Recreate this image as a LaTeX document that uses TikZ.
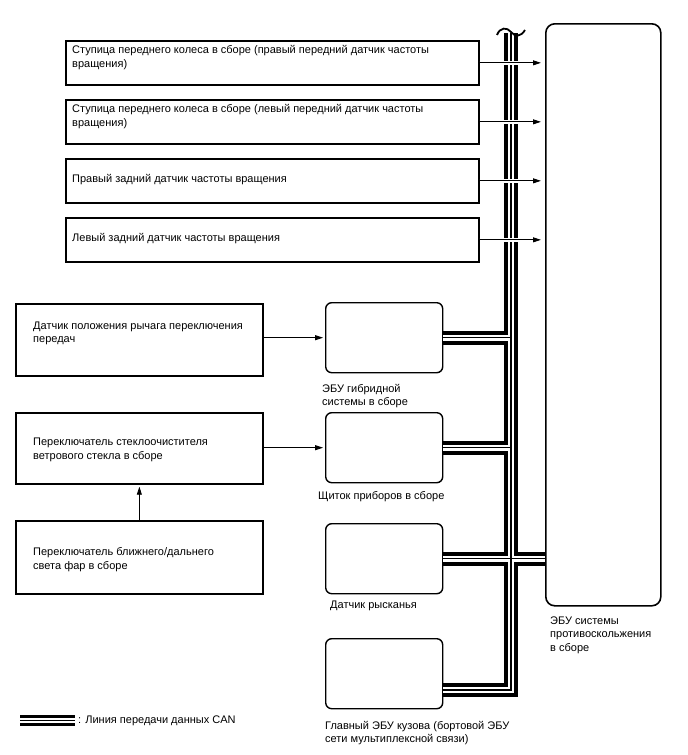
\documentclass[tikz,border=0pt]{standalone}
\usepackage{fontspec}
\setmainfont{Liberation Sans}
\usetikzlibrary{arrows.meta,positioning,calc}

\begin{document}
\begin{tikzpicture}[x=1pt,y=-1pt,font=\fontsize{11}{13.5}\selectfont,
  inbox/.style={draw,line width=1.7pt,anchor=north west,inner sep=0pt},
  ubox/.style={draw,line width=1.4pt,rounded corners=6pt,anchor=north west,
    inner sep=0pt,minimum width=117pt,minimum height=70pt},
  txt/.style={anchor=west,align=left,inner sep=0pt},
  sig/.style={line width=0.9pt,-{Triangle[length=8pt,width=5pt]}},
  canbus/.style={draw=black,line width=14pt,line join=miter,
    postaction={draw=white,line width=6pt},
    postaction={draw=black,line width=1.3pt}},
  canlegend/.style={draw=black,line width=11pt,
    postaction={draw=white,line width=5pt},
    postaction={draw=black,line width=1pt}}]
  \useasboundingbox (0,0) rectangle (688,755);
  % wheel speed sensors
  \foreach \n/\top/\dy/\txt in {
    wfr/40/17.5/{Ступица переднего колеса в сборе (правый передний датчик частоты\\вращения)},
    wfl/99/17.5/{Ступица переднего колеса в сборе (левый передний датчик частоты\\вращения)},
    wrr/158/22/{Правый задний датчик частоты вращения},
    wrl/217/22/{Левый задний датчик частоты вращения}}{
    \node[inbox,minimum width=413pt,minimum height=44pt] (\n) at (65,\top) {};
    \node[txt] (\n-t) at ($(\n.north west)+(7,\dy)$) {\txt};
  }
  % skid control ECU
  \node[draw,line width=1.6pt,rounded corners=9pt,anchor=north west,inner sep=0pt,
    minimum width=115pt,minimum height=582pt] (ecu) at (545,23) {};
  \node[anchor=north west,align=left,inner sep=0pt] (ecu-t) at ($(ecu.south west)+(5,10)$)
    {ЭБУ системы\\противоскольжения\\в сборе};
  % CAN units
  \node[ubox] (hyb) at (325,302) {};
  \node[anchor=north west,align=left,inner sep=0pt] (hyb-t) at (322,384)
    {ЭБУ гибридной\\системы в сборе};
  \node[ubox] (ins) at (325,412) {};
  \node[txt] (ins-t) at (318,497) {Щиток приборов в сборе};
  \node[ubox] (yaw) at (325,523) {};
  \node[txt] (yaw-t) at (330,606) {Датчик рысканья};
  \node[ubox] (body) at (325,638) {};
  \node[anchor=north west,align=left,inner sep=0pt] (body-t) at (325,721)
    {Главный ЭБУ кузова (бортовой ЭБУ\\сети мультиплексной связи)};
  % switches
  \node[inbox,minimum width=247pt,minimum height=72pt] (gear) at (15,303) {};
  \node[txt] (gear-t) at (33,333.5) {Датчик положения рычага переключения\\передач};
  \node[inbox,minimum width=247pt,minimum height=71pt] (wip) at (15,412) {};
  \node[txt] (wip-t) at (33,450) {Переключатель стеклоочистителя\\ветрового стекла в сборе};
  \node[inbox,minimum width=247pt,minimum height=73pt] (head) at (15,520) {};
  \node[txt] (head-t) at (33,559.5) {Переключатель ближнего/дальнего\\света фар в сборе};
  % CAN bus
  \coordinate (bt) at (511,33);
  \coordinate (bb) at (511,690);
  \draw[canbus] (bt) -- (bb) -- (bb -| body.east)
    (hyb.east) -- (hyb.east -| bt)
    (ins.east) -- (ins.east -| bt)
    (yaw.east) -- (yaw.east -| ecu.west);
  \draw[line width=1.8pt] (497,35) .. controls (500,27) and (507,27) .. (511,32)
    .. controls (515,37) and (521,37) .. (525,30);
  % signal lines
  \foreach \n in {wfr,wfl,wrr,wrl}
    \draw[sig,shorten >=4pt,preaction={draw=white,line width=4pt}]
      (\n.east) -- (\n.east -| ecu.west);
  \draw[sig,shorten >=2pt] (gear.east |- hyb.west) -- (hyb.west);
  \draw[sig,shorten >=2pt] (wip.east |- ins.west) -- (ins.west);
  \draw[sig,shorten >=2pt] (head.north) -- (wip.south);
  % legend
  \coordinate (lg1) at (20,720.5);
  \coordinate (lg2) at (75,720.5);
  \draw[canlegend] (lg1) -- (lg2);
  \node[anchor=west,inner sep=0pt] (lg-t) at ($(lg2)+(3,0)$) {: Линия передачи данных CAN};
\end{tikzpicture}
\end{document}
